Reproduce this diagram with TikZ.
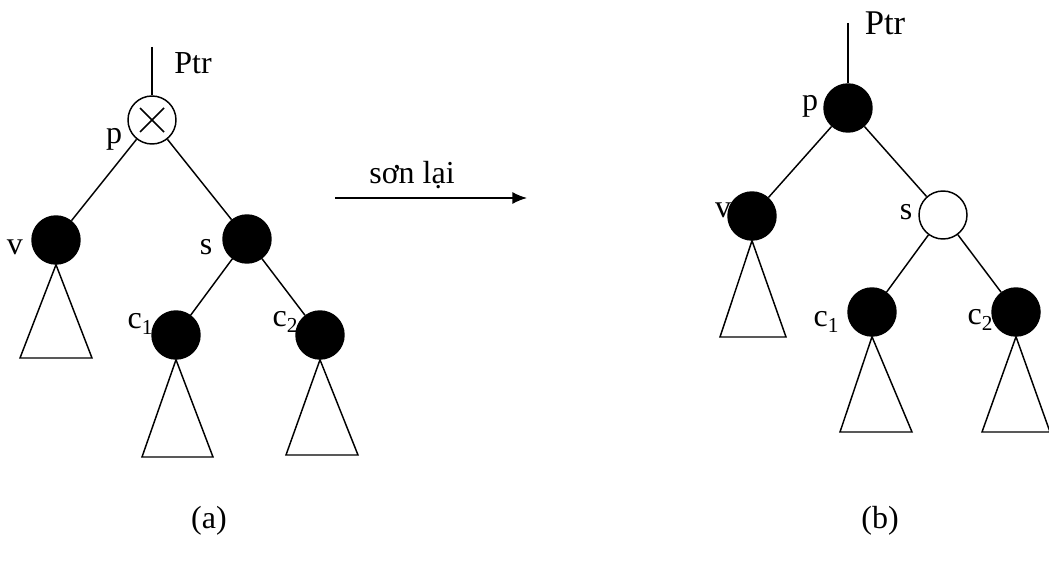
\documentclass[tikz,border=0pt]{standalone}
\usepackage{fontspec}
\setmainfont{Liberation Serif}
\usetikzlibrary{arrows.meta}
\newcommand{\lowsub}[1]{\raisebox{-0.35ex}{\fontsize{16}{16}\selectfont #1}}

\begin{document}
\begin{tikzpicture}[x=0.75pt,y=-0.75pt,>={Latex[length=11pt,width=9pt]},line width=1.1pt,
  rb/.style={circle,draw=black,fill=black,minimum size=36pt,inner sep=0pt},
  rw/.style={circle,draw=black,fill=white,minimum size=36pt,inner sep=0pt},
  lbl/.style={inner sep=0pt,font=\fontsize{24}{28}\selectfont}]
 \useasboundingbox (0,0) rectangle (1049,563);
 % (a) before recolouring
 \coordinate (ptrA) at (152,47);
 \node[rw] (pA) at (152,120) {};
 \draw ([shift={(-12,-12)}]pA.center) -- ([shift={(12,12)}]pA.center);
 \draw ([shift={(-12,12)}]pA.center) -- ([shift={(12,-12)}]pA.center);
 \node[rb] (vA) at (56,240) {};
 \node[rb] (sA) at (247,239) {};
 \node[rb] (cA1) at (176,335) {};
 \node[rb] (cA2) at (320,335) {};
 \draw (ptrA) -- (pA);
 \draw (pA) -- (vA);
 \draw (pA) -- (sA);
 \draw (sA) -- (cA1);
 \draw (sA) -- (cA2);
 \draw (vA.south) -- (20,358) -- (92,358) -- cycle;
 \draw (cA1.south) -- (142,457) -- (213,457) -- cycle;
 \draw (cA2.south) -- (286,455) -- (358,455) -- cycle;
 \node[lbl] (tPtrA) at (193,63) {Ptr};
 \node[lbl] (tpA) at (114,139) {p};
 \node[lbl] (tvA) at (15,247) {v};
 \node[lbl] (tsA) at (206,247) {s};
 \node[lbl] (tcA1) at (140,324) {c\lowsub{1}};
 \node[lbl] (tcA2) at (285,322) {c\lowsub{2}};
 \node[lbl] (capA) at (209,521) {(a)};
 % recolouring arrow
 \coordinate (arrL) at (335,198);
 \coordinate (arrR) at (527,198);
 \draw[->] (arrL) -- (arrR);
 \node[lbl] (tArr) at (412,175) {sơn lại};
 % (b) after recolouring
 \coordinate (ptrB) at (848,23);
 \node[rb] (pB) at (848,108) {};
 \node[rb] (vB) at (752,216) {};
 \node[rw] (sB) at (943,215) {};
 \node[rb] (cB1) at (872,312) {};
 \node[rb] (cB2) at (1016,312) {};
 \draw (ptrB) -- (pB);
 \draw (pB) -- (vB);
 \draw (pB) -- (sB);
 \draw (sB) -- (cB1);
 \draw (sB) -- (cB2);
 \draw (vB.south) -- (720,337) -- (786,337) -- cycle;
 \draw (cB1.south) -- (840,432) -- (912,432) -- cycle;
 \draw (cB2.south) -- (982,432) -- (1050,432) -- cycle;
 \node[lbl,font=\fontsize{26}{30}\selectfont] (tPtrB) at (885,23) {Ptr};
 \node[lbl] (tpB) at (810,106) {p};
 \node[lbl] (tvB) at (723,210) {v};
 \node[lbl] (tsB) at (906,212) {s};
 \node[lbl] (tcB1) at (826,322) {c\lowsub{1}};
 \node[lbl] (tcB2) at (980,320) {c\lowsub{2}};
 \node[lbl] (capB) at (880,521) {(b)};
\end{tikzpicture}
\end{document}
